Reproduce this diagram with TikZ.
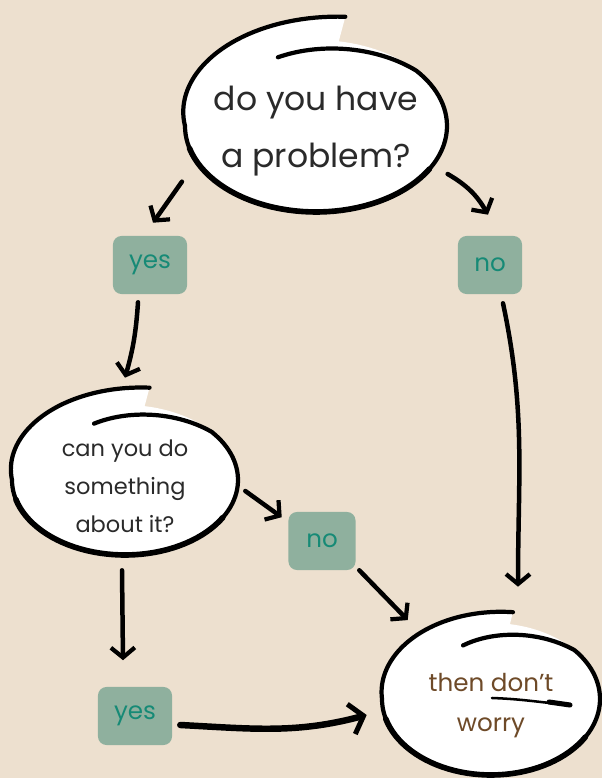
\documentclass[tikz,border=0pt]{standalone}
\usepackage{fontspec}
\setmainfont{Poppins}
\usetikzlibrary{shapes.geometric,arrows.meta}

\definecolor{wood}{RGB}{237,224,207}
\definecolor{sage}{RGB}{143,176,158}
\definecolor{tealink}{RGB}{22,138,118}
\definecolor{ink}{RGB}{42,42,42}
\definecolor{brownink}{RGB}{110,74,40}

\tikzset{
  bubble/.style={ellipse, inner sep=0pt, align=center, text=ink},
  answer/.style={rectangle, rounded corners=6pt, fill=sage, text=tealink,
    minimum height=1.45cm, font=\fontsize{17.5}{20}\selectfont},
  brush/.style={draw=black, line width=3pt, line cap=round, line join=round},
  arr/.style={-{Straight Barb[length=7pt,width=17pt,line width=3pt]},
    line width=3.2pt, line cap=round},
  bigarr/.style={-{Straight Barb[length=9pt,width=22pt,line width=3.6pt]},
    line width=4.6pt, line cap=round},
}

% bulle blanche avec une boucle dessinee a la main : centre, rayon x, rayon y, facteur exterieur, facteur interieur
\newcommand{\bubbleloop}[5]{%
  \begin{scope}[shift={(#1)}]
    \fill[white] plot[domain=80:180,samples=40] ({#2*(1+(#4-1)*(180-\x)/100)*cos(\x)},{#3*(1+(#4-1)*(180-\x)/100)*sin(\x)})
      -- plot[domain=180:440,samples=90] ({#2*cos(\x)},{#3*sin(\x)}) -- cycle;
    \draw[brush] plot[domain=80:180,samples=40] ({#2*(1+(#4-1)*(180-\x)/100)*cos(\x)},{#3*(1+(#4-1)*(180-\x)/100)*sin(\x)})
      -- plot[domain=180:400,samples=80] ({#2*cos(\x)},{#3*sin(\x)})
      -- plot[domain=400:470,samples=30] ({#2*(1-(1-#5)*(\x-400)/70)*cos(\x)},{#3*(1-(1-#5)*(\x-400)/70)*sin(\x)});
    \draw[brush,line width=4pt] plot[domain=195:330,samples=40] ({#2*cos(\x)},{#3*sin(\x)});
  \end{scope}}

\begin{document}
\begin{tikzpicture}[x=0.025cm, y=0.025cm]

% Zone de dessin / drawing area
\useasboundingbox (0,0) rectangle (602,778);
\fill[wood] (0,0) rectangle (602,778);

% Bulles / bubbles
\coordinate (c1) at (316,652);
\coordinate (c2) at (125,298);
\coordinate (c3) at (491,79);
\bubbleloop{c1}{131}{86}{1.29}{0.85}
\bubbleloop{c2}{113}{75}{1.25}{0.8}
\bubbleloop{c3}{109}{76}{1.16}{0.75}

\node[bubble, minimum width=6.55cm, minimum height=4.3cm, yshift=-0.125cm, font=\fontsize{23.5}{40}\selectfont] (q1) at (c1) {do you have\\a problem?};
\node[bubble, minimum width=5.65cm, minimum height=3.75cm, yshift=-0.15cm, font=\fontsize{16}{27}\selectfont] (q2) at (c2) {can you do\\something\\about it?};
\node[bubble, minimum width=5.45cm, minimum height=3.8cm, yshift=-0.175cm, text=brownink, font=\fontsize{17.5}{28.4}\selectfont] (r3) at (c3) {then don't\\worry};

% Reponses / answers
\node[answer, minimum width=1.85cm] (yes1) at (150,513) {yes};
\node[answer, minimum width=1.6cm] (no1) at (490,513) {no};
\node[answer, minimum width=1.675cm] (no2) at (322,237) {no};
\node[answer, minimum width=1.85cm] (yes2) at (135,62) {yes};

% Fleches / arrows
\draw[arr] ([shift={(-18,1)}]q1.204) -- ([shift={(3,13)}]yes1.north);
\draw[arr] ([shift={(8,2)}]q1.-20) to[bend left=15] ([shift={(-2,21)}]no1.north);
\draw[arr] ([shift={(-12,-8)}]yes1.south) to[bend left=6] ([shift={(0,33)}]q2.north);
\draw[arr] ([shift={(13,-9)}]no1.south) to[out=-78,in=90] ([shift={(27,43)}]r3.north);
\draw[arr] ([shift={(7,-5)}]q2.east) -- ([shift={(-6.5,-5.5)}]no2.north west);
\draw[arr] ([shift={(3.5,0)}]no2.south east) -- ([shift={(-6,32)}]r3.north west);
\draw[arr] ([shift={(-3,-9)}]q2.south) -- ([shift={(-12,26.5)}]yes2.north);
\draw[bigarr] ([shift={(8,-9)}]yes2.east) to[out=-3,in=195] ([shift={(-15,-9)}]r3.west);

% Soulignement / underline
\draw[line width=1.8pt, line cap=round] ([shift={(1,1)}]c3) to[out=-2,in=175] ([shift={(79,-6)}]c3);
\draw[line width=3.6pt, line cap=round] ([shift={(58,-3)}]c3) -- ([shift={(79,-6)}]c3);

\end{tikzpicture}
\end{document}
